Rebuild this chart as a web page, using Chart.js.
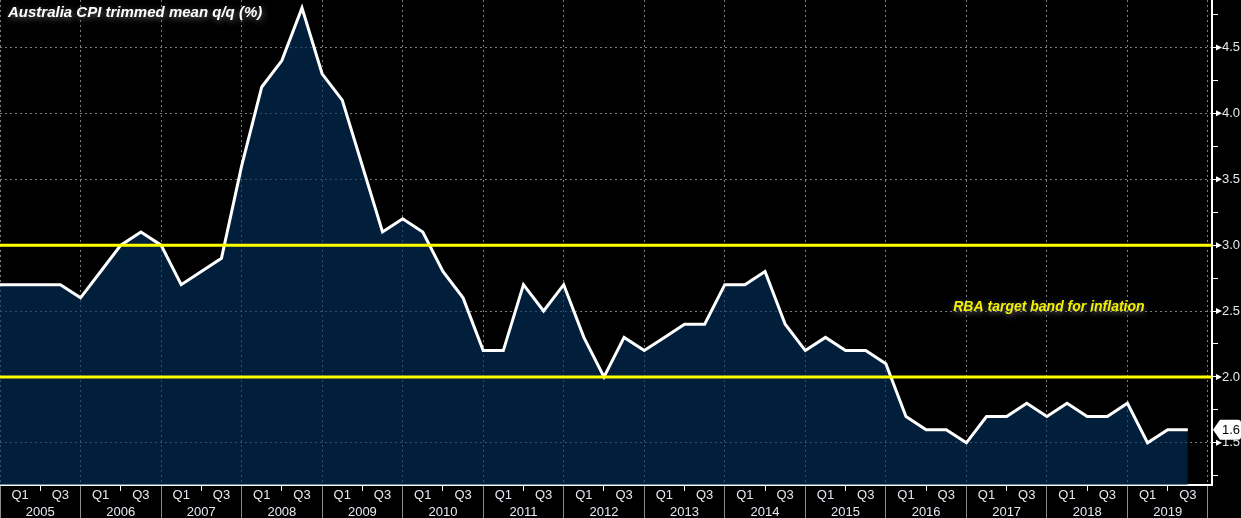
<!DOCTYPE html>
<html lang="en">

<head>
    <meta charset="UTF-8">
    <title>Australia CPI trimmed mean q/q</title>
    <script src="https://cdn.jsdelivr.net/npm/chart.js"></script>
    <style>
        * {
            margin: 0;
            padding: 0;
            box-sizing: border-box;
        }

        body {
            background-color: #000000;
            width: 1241px;
            height: 518px;
            overflow: hidden;
        }

        #wrap {
            position: relative;
            width: 1241px;
            height: 518px;
        }

        #title {
            position: absolute;
            left: 8px;
            top: 3px;
            color: #ffffff;
            font: italic bold 15px "Liberation Sans", Arial, sans-serif;
            line-height: 18px;
            text-shadow: 1px 2px 6px rgba(150, 150, 150, 0.75);
            pointer-events: none;
        }
    </style>
</head>

<body>
    <div id="wrap">
        <canvas id="cpiChart"></canvas>
        <div id="title">Australia CPI trimmed mean q/q (%)</div>
    </div>

    <script>
        // quarterly trimmed mean CPI, 2004 Q4 .. 2019 Q3
        const cpi = [
            2.7, 2.7, 2.7, 2.7, 2.6, 2.8, 3.0, 3.1, 3.0, 2.7, 2.8, 2.9,
            3.6, 4.2, 4.4, 4.8, 4.3, 4.1, 3.6, 3.1, 3.2, 3.1, 2.8, 2.6,
            2.2, 2.2, 2.7, 2.5, 2.7, 2.3, 2.0, 2.3, 2.2, 2.3, 2.4, 2.4,
            2.7, 2.7, 2.8, 2.4, 2.2, 2.3, 2.2, 2.2, 2.1, 1.7, 1.6, 1.6,
            1.5, 1.7, 1.7, 1.8, 1.7, 1.8, 1.7, 1.7, 1.8, 1.5, 1.6, 1.6
        ];
        const years = [2005, 2006, 2007, 2008, 2009, 2010, 2011, 2012, 2013, 2014, 2015, 2016, 2017, 2018, 2019];
        const quarterLabels = ['Q1', 'Q3'];
        const yTicks = [1.25, 1.5, 1.75, 2.0, 2.25, 2.5, 2.75, 3.0, 3.25, 3.5, 3.75, 4.0, 4.25, 4.5, 4.75];

        // RBA target band
        const bandUpper = 3.0;
        const bandLower = 2.0;
        const bandNote = 'RBA target band for inflation';

        const gridColor = '#7c7c7c';
        const fontFamily = '"Liberation Sans", Arial, sans-serif';

        const xMax = 60.2;
        const points = cpi.map((v, i) => ({ x: i, y: v }));

        // note text + last value tag + major tick arrows
        const extras = {
            id: 'extras',
            afterDraw(chart) {
                const ctx = chart.ctx;
                const xs = chart.scales.x;
                const ys = chart.scales.y;
                const area = chart.chartArea;

                ctx.save();
                ctx.font = 'italic bold 14px ' + fontFamily;
                ctx.fillStyle = '#f2f200';
                ctx.textAlign = 'center';
                ctx.textBaseline = 'middle';
                ctx.shadowColor = 'rgba(160,160,160,0.7)';
                ctx.shadowBlur = 6;
                ctx.shadowOffsetY = 2;
                ctx.fillText(bandNote, xs.getPixelForValue(52.1), ys.getPixelForValue(2.53));
                ctx.restore();

                // little arrows on major ticks
                ctx.save();
                ctx.fillStyle = '#ffffff';
                ys.ticks.forEach(t => {
                    if (Math.round(t.value * 4) % 2 !== 0) return;
                    const y = ys.getPixelForValue(t.value);
                    ctx.beginPath();
                    ctx.moveTo(area.right + 4, y - 3);
                    ctx.lineTo(area.right + 10, y);
                    ctx.lineTo(area.right + 4, y + 3);
                    ctx.closePath();
                    ctx.fill();
                });
                ctx.restore();

                // last value tag
                const last = cpi[cpi.length - 1];
                const ty = ys.getPixelForValue(last);
                const left = area.right + 1;
                const right = chart.width;
                ctx.save();
                ctx.fillStyle = '#ffffff';
                ctx.beginPath();
                ctx.moveTo(left, ty);
                ctx.lineTo(left + 7, ty - 10);
                ctx.lineTo(right - 3, ty - 10);
                ctx.quadraticCurveTo(right, ty - 10, right, ty - 7);
                ctx.lineTo(right, ty + 7);
                ctx.quadraticCurveTo(right, ty + 10, right - 3, ty + 10);
                ctx.lineTo(left + 7, ty + 10);
                ctx.closePath();
                ctx.fill();
                ctx.fillStyle = '#000000';
                ctx.font = '13px ' + fontFamily;
                ctx.textAlign = 'left';
                ctx.textBaseline = 'middle';
                ctx.fillText(last.toFixed(1), left + 9, ty + 1);
                ctx.restore();
            }
        };

        const ctx = document.getElementById('cpiChart').getContext('2d');

        new Chart(ctx, {
            type: 'line',
            data: {
                datasets: [
                    {
                        data: [{ x: 0, y: bandUpper }, { x: xMax, y: bandUpper }],
                        borderColor: '#ffff00',
                        borderWidth: 3,
                        pointRadius: 0,
                        fill: false
                    },
                    {
                        data: [{ x: 0, y: bandLower }, { x: xMax, y: bandLower }],
                        borderColor: '#ffff00',
                        borderWidth: 3,
                        pointRadius: 0,
                        fill: false
                    },
                    {
                        data: points,
                        borderColor: '#ffffff',
                        borderWidth: 3,
                        backgroundColor: 'rgba(2, 50, 97, 0.6)', // navy, lets the grid show through
                        fill: 'start',
                        pointRadius: 0,
                        tension: 0
                    }
                ]
            },
            options: {
                responsive: true,
                maintainAspectRatio: false,
                animation: false,
                layout: { padding: 0 },
                plugins: {
                    legend: { display: false },
                    tooltip: { enabled: false }
                },
                scales: {
                    x: {
                        type: 'linear',
                        min: 0,
                        max: xMax,
                        afterBuildTicks: s => {
                            s.ticks = [];
                            for (let i = 0; i <= 60; i++) s.ticks.push({ value: i });
                        },
                        afterFit: s => {
                            s.height = 33;
                            s.paddingLeft = 0;
                            s.paddingRight = 0;
                        },
                        ticks: {
                            autoSkip: false,
                            maxRotation: 0,
                            minRotation: 0,
                            padding: -31,
                            color: '#e4e9f0',
                            font: { family: fontFamily, size: 13, lineHeight: 1.3 },
                            callback: v => {
                                const m = v % 4;
                                if (m === 1) return quarterLabels[0];
                                if (m === 3) return quarterLabels[1];
                                if (m === 2) return ['', String(years[(v - 2) / 4])];
                                return '';
                            }
                        },
                        grid: {
                            drawOnChartArea: true,
                            tickLength: 33,
                            color: c => (c.tick && c.tick.value % 4 === 0) ? gridColor : 'transparent',
                            tickColor: c => {
                                const m = c.tick ? c.tick.value % 4 : 1;
                                if (m === 0) return '#8a8a8a';
                                if (m === 2) return '#ffffff';
                                return 'transparent';
                            },
                            tickBorderDash: c => (c.tick && c.tick.value % 4 === 2) ? [5, 60] : []
                        },
                        border: { display: true, color: '#ffffff', width: 2, dash: [2, 3] }
                    },
                    y: {
                        type: 'linear',
                        position: 'right',
                        min: 1.18,
                        max: 4.86,
                        afterBuildTicks: s => { s.ticks = yTicks.map(v => ({ value: v })); },
                        afterFit: s => {
                            s.width = 29;
                            s.paddingTop = 0;
                            s.paddingBottom = 0;
                        },
                        ticks: {
                            padding: 4,
                            color: '#e4e9f0',
                            font: { family: fontFamily, size: 13 },
                            callback: v => (Math.round(v * 4) % 2 === 0) ? v.toFixed(1) : ''
                        },
                        grid: {
                            tickLength: 6,
                            color: c => (c.tick && Math.round(c.tick.value * 4) % 2 === 0) ? gridColor : 'transparent',
                            tickColor: '#ffffff'
                        },
                        border: { display: true, color: '#ffffff', width: 2, dash: [2, 3] }
                    }
                }
            },
            plugins: [extras]
        });
    </script>
</body>

</html>
